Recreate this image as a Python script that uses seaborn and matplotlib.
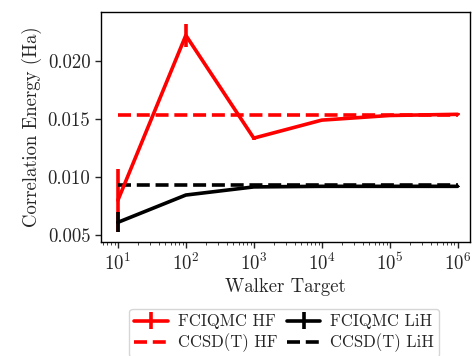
import matplotlib
matplotlib.use("Agg")
import matplotlib.pyplot as plt
import seaborn as sns
import numpy as np
import pandas as pd

walkers = [10, 100, 1000, 10000, 100000, 1000000]
hf_fciqmc = [0.0080, 0.0222, 0.01335, 0.0149, 0.0153, 0.0154]
hf_err = [0.0027, 0.0010, 0.0002, 0.0001, 0.0001, 0.0001]
lih_fciqmc = [0.0061, 0.00845, 0.00915, 0.0092, 0.0092, 0.0092]
lih_err = [0.00085, 0.0001, 0.0001, 0.00005, 0.00005, 0.00005]
hf_ccsdt = 0.01535
lih_ccsdt = 0.0093

sns.set_style("ticks")
plt.rcParams['font.family'] = ['cmr10']
plt.rcParams['mathtext.fontset'] = 'cm'
plt.rcParams['axes.unicode_minus'] = False
plt.rcParams['axes.formatter.use_mathtext'] = True
plt.rcParams['font.size'] = 13.5

fig = plt.figure(figsize=(4.76, 3.56), dpi=100)
ax = fig.add_axes([0.212, 0.32, 0.775, 0.646])

lw = 2.6
ax.errorbar(walkers, hf_fciqmc, yerr=hf_err, color='red', lw=lw, elinewidth=lw, label='FCIQMC HF')
df_hf = pd.DataFrame({'x': walkers, 'y': [hf_ccsdt] * len(walkers)})
sns.lineplot(data=df_hf, x='x', y='y', ax=ax, color='red', lw=lw, dashes=(3.6, 1.6), label='CCSD(T) HF')
ax.errorbar(walkers, lih_fciqmc, yerr=lih_err, color='black', lw=lw, elinewidth=lw, label='FCIQMC LiH')
df_lih = pd.DataFrame({'x': walkers, 'y': [lih_ccsdt] * len(walkers)})
sns.lineplot(data=df_lih, x='x', y='y', ax=ax, color='black', lw=lw, dashes=(3.6, 1.6), label='CCSD(T) LiH')

ax.set_xscale('log')
ax.set_xlim(10**0.75, 10**6.18)
ax.set_ylim(0.0044, 0.0242)
ax.set_yticks([0.005, 0.010, 0.015, 0.020])
ax.set_yticklabels(['0.005', '0.010', '0.015', '0.020'])
ax.set_xlabel('Walker Target', labelpad=3)
ax.set_ylabel('Correlation Energy (Ha)', labelpad=4)
ax.tick_params(direction='out', width=1, length=4)
for s in ax.spines.values():
    s.set_linewidth(1)
    s.set_color('black')

handles, labels = ax.get_legend_handles_labels()
order = ['FCIQMC HF', 'CCSD(T) HF', 'FCIQMC LiH', 'CCSD(T) LiH']
hmap = dict(zip(labels, handles))
ax.legend([hmap[l] for l in order], order, ncol=2, loc='upper center',
          bbox_to_anchor=(0.497, -0.255), fontsize=12, handlelength=2.0,
          columnspacing=0.6, handletextpad=0.6, labelspacing=0.25, borderpad=0.3)

fig.savefig('out.png', dpi=100)
